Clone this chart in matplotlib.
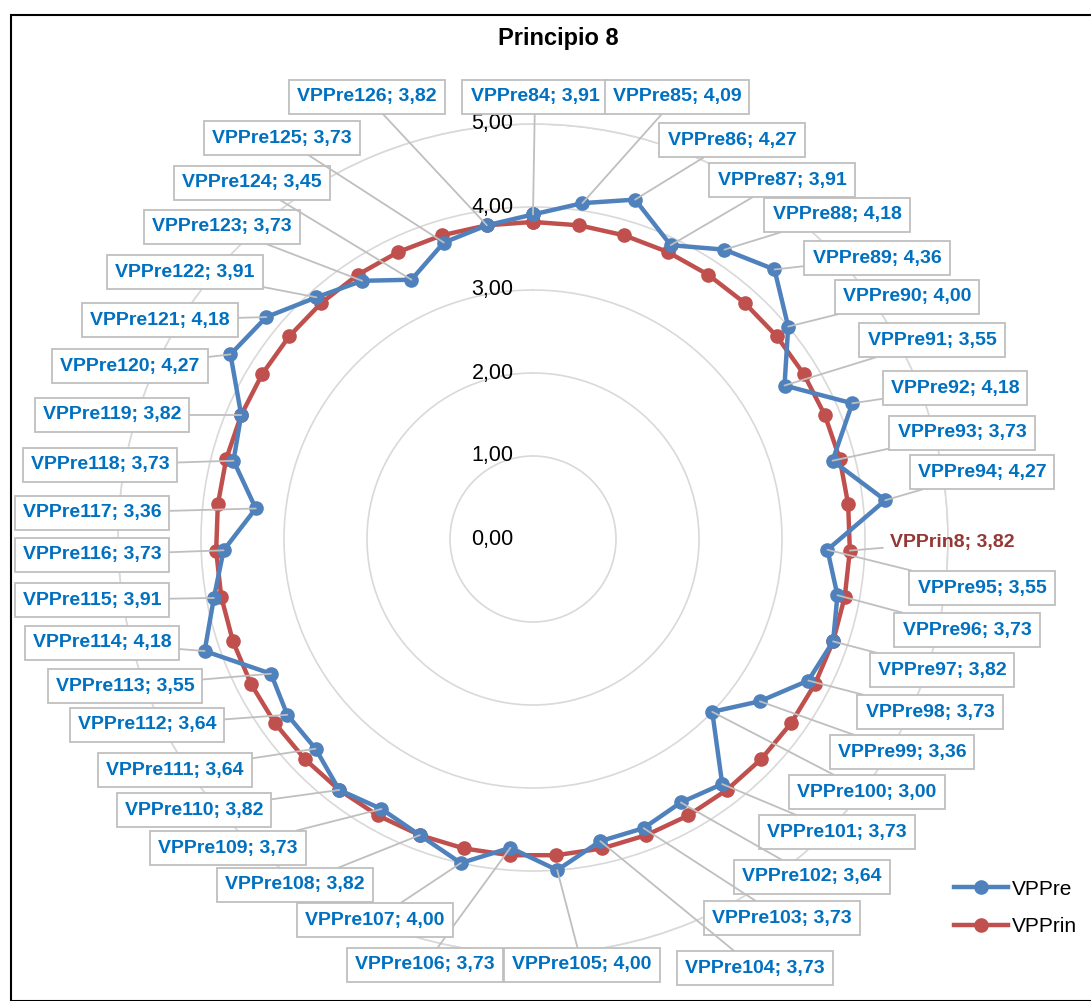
import numpy as np
import matplotlib
matplotlib.use("Agg")
import matplotlib.pyplot as plt
from matplotlib.lines import Line2D
from matplotlib.patches import Rectangle

# ---------------- data ----------------
categories = [f"VPPre{i}" for i in range(84, 127)]
vppre = [3.91, 4.09, 4.27, 3.91, 4.18, 4.36, 4.00, 3.55, 4.18, 3.73, 4.27,
         3.55, 3.73, 3.82, 3.73, 3.36, 3.00, 3.73, 3.64, 3.73, 3.73, 4.00,
         3.73, 4.00, 3.82, 3.73, 3.82, 3.64, 3.64, 3.55, 4.18, 3.91, 3.73,
         3.36, 3.73, 3.82, 4.27, 4.18, 3.91, 3.73, 3.45, 3.73, 3.82]
vpprin = [3.82] * len(vppre)
vpprin_label = "VPPrin8"
vpprin_label_index = 11
r_ticks = [0, 1, 2, 3, 4, 5]
r_tick_labels = ["0,00", "1,00", "2,00", "3,00", "4,00", "5,00"]
title = "Principio 8"
series_names = ["VPPre", "VPPrin"]

# ---------------- layout (label box centres, pixels from top-left) ----------------
LABEL_XY = [
    (535, 97), (677, 97), (732, 140), (782, 180), (837, 215), (877, 258),
    (907, 297), (932, 340), (955, 388), (962, 433), (982, 472),
    (982, 588), (967, 630), (942, 670), (930, 712), (902, 752), (867, 792),
    (837, 832), (812, 877), (782, 918), (755, 968), (582, 965),
    (425, 965), (375, 920), (295, 885), (228, 848), (194, 810), (175, 770),
    (147, 725), (125, 686), (102, 643), (92, 600), (92, 555), (92, 513),
    (100, 465), (112, 415), (130, 366), (160, 320), (185, 272), (222, 227),
    (252, 183), (282, 138), (367, 97),
]
PRIN_XY = (952, 542)

W, H = 1091, 1001
BLUE = "#4F81BD"
RED = "#C0504D"
LBL_BLUE = "#0070C0"
LBL_RED = "#953735"
GRID = "#D9D9D9"
LEADER = "#BFBFBF"
FONT = ["Liberation Sans Narrow", "Liberation Sans", "DejaVu Sans"]

plt.rcParams["font.family"] = FONT

fig = plt.figure(figsize=(W / 100, H / 100), dpi=100)
fig.patch.set_facecolor("white")

# border
fig.add_artist(Rectangle((11 / W, 0), 1.2, (H - 15) / H, transform=fig.transFigure,
                         fill=False, ec="black", lw=1.5))

cx, cy, R = 533, 539, 415
ax = fig.add_axes([(cx - R) / W, (H - cy - R) / H, 2 * R / W, 2 * R / H],
                  projection="polar")
ax.set_theta_zero_location("N")
ax.set_theta_direction(-1)
ax.set_ylim(0, 5)
ax.set_facecolor("none")

n = len(vppre)
theta = np.linspace(0, 2 * np.pi, n, endpoint=False)
tc = np.append(theta, theta[0])

ax.set_xticks([])
ax.set_yticks(r_ticks[1:])
ax.set_yticklabels([])
ax.yaxis.grid(True, color=GRID, lw=1.2)
ax.xaxis.grid(False)
ax.spines["polar"].set_color(GRID)
ax.spines["polar"].set_linewidth(1.2)

for rv, lab in zip(r_ticks, r_tick_labels):
    ax.annotate(lab, xy=(0, rv), xytext=(-14, 0), textcoords="offset points",
                ha="right", va="center", fontsize=15.5, color="black",
                annotation_clip=False)

ax.plot(tc, np.append(vppre, vppre[0]), color=BLUE, lw=3.2, marker="o", ms=9.5,
        zorder=5, clip_on=False)
ax.plot(tc, np.append(vpprin, vpprin[0]), color=RED, lw=3.2, marker="o", ms=9.5,
        zorder=4, clip_on=False)

# labels
for i, (cat, v) in enumerate(zip(categories, vppre)):
    x, y = LABEL_XY[i]
    txt = f"{cat}; {v:.2f}".replace(".", ",")
    ax.annotate(txt, xy=(theta[i], v), xycoords="data",
                xytext=(x, H - y), textcoords="figure pixels",
                ha="center", va="center", fontsize=14, fontweight="bold",
                color=LBL_BLUE, annotation_clip=False, zorder=10,
                bbox=dict(boxstyle="square,pad=0.42", fc="white", ec=LEADER, lw=1.3),
                arrowprops=dict(arrowstyle="-", color=LEADER, lw=1.3,
                                shrinkA=0, shrinkB=0))

k = vpprin_label_index
ax.annotate(f"{vpprin_label}; {vpprin[k]:.2f}".replace(".", ","),
            xy=(theta[k], vpprin[k]), xycoords="data",
            xytext=(PRIN_XY[0], H - PRIN_XY[1]), textcoords="figure pixels",
            ha="center", va="center", fontsize=14, fontweight="bold",
            color=LBL_RED, annotation_clip=False, zorder=10,
            bbox=dict(boxstyle="square,pad=0.35", fc="none", ec="none"),
            arrowprops=dict(arrowstyle="-", color=LEADER, lw=1.3,
                            shrinkA=0, shrinkB=0))

fig.text(558 / W, 1 - 38 / H, title, ha="center", va="center",
         fontsize=17, fontweight="bold")

handles = [Line2D([], [], color=BLUE, lw=3.2, marker="o", ms=9.5),
           Line2D([], [], color=RED, lw=3.2, marker="o", ms=9.5)]
fig.legend(handles, series_names, loc="center left",
           bbox_to_anchor=(935 / W, 1 - 908 / H), frameon=False,
           fontsize=15, handlelength=2.6, handletextpad=0.2, labelspacing=0.9)

fig.savefig("out.png", dpi=100, facecolor="white")
